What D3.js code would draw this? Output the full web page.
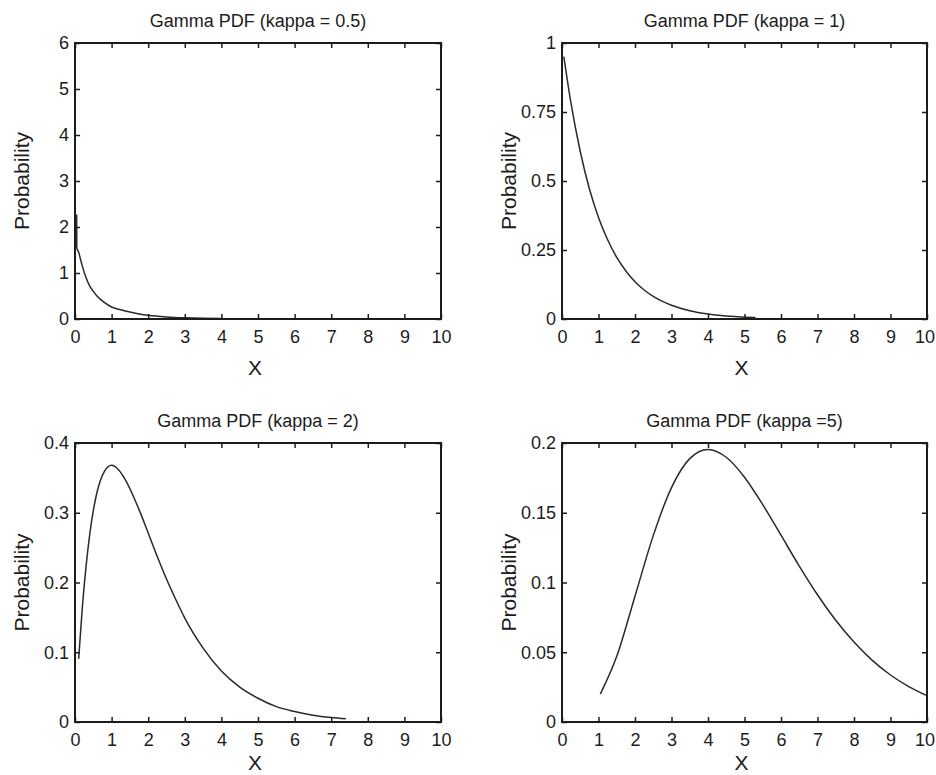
<!DOCTYPE html>
<html>
<head>
<meta charset="utf-8">
<script src="https://cdn.jsdelivr.net/npm/d3@7"></script>
<style>
  html, body { margin: 0; padding: 0; background: #fff; }
  svg { display: block; font-family: "Liberation Sans", Arial, sans-serif; }
</style>
</head>
<body>
<svg id="chart" width="936" height="775"></svg>
<script>
// ---------- data ----------
const titles = ["Gamma PDF (kappa = 0.5)", "Gamma PDF (kappa = 1)", "Gamma PDF (kappa = 2)", "Gamma PDF (kappa =5)"];
const xTicks = [0, 1, 2, 3, 4, 5, 6, 7, 8, 9, 10];

const yTicksA = [0, 1, 2, 3, 4, 5, 6];
const yTicksB = [0, 0.25, 0.5, 0.75, 1];
const yTicksC = [0, 0.1, 0.2, 0.3, 0.4];
const yTicksD = [0, 0.05, 0.1, 0.15, 0.2];
const yLabelsA = ["0", "1", "2", "3", "4", "5", "6"];
const yLabelsB = ["0", "0.25", "0.5", "0.75", "1"];
const yLabelsC = ["0", "0.1", "0.2", "0.3", "0.4"];
const yLabelsD = ["0", "0.05", "0.1", "0.15", "0.2"];

const xA = [0.045, 0.05, 0.1, 0.15, 0.2, 0.3, 0.4, 0.5, 0.6, 0.8, 1, 1.25, 1.5, 1.75, 2, 2.5, 3, 3.5, 4];
const yA = [2.27, 1.54, 1.45, 1.3, 1.15, 0.9, 0.72, 0.6, 0.5, 0.36, 0.26, 0.2, 0.15, 0.11, 0.08, 0.045, 0.026, 0.015, 0.01];

const xB = [0.05, 0.25, 0.5, 0.75, 1, 1.25, 1.5, 1.75, 2, 2.25, 2.5, 2.75, 3, 3.5, 4, 4.5, 5, 5.3];
const yB = [0.951, 0.779, 0.607, 0.472, 0.368, 0.287, 0.223, 0.174, 0.135, 0.105, 0.082, 0.064, 0.050, 0.030, 0.018, 0.011, 0.0067, 0.005];

const xC = [0.1, 0.2, 0.3, 0.4, 0.5, 0.6, 0.8, 1, 1.2, 1.4, 1.6, 1.8, 2, 2.25, 2.5, 2.75, 3, 3.5, 4, 4.5, 5, 5.5, 6, 6.5, 7, 7.4];
const yC = [0.0905, 0.164, 0.222, 0.268, 0.303, 0.329, 0.359, 0.368, 0.361, 0.345, 0.323, 0.298, 0.271, 0.237, 0.205, 0.176, 0.149, 0.106, 0.073, 0.050, 0.034, 0.022, 0.015, 0.0098, 0.0064, 0.0045];

const xD = [1.05, 1.5, 2, 2.5, 3, 3.5, 4, 4.5, 5, 5.5, 6, 6.5, 7, 7.5, 8, 8.5, 9, 9.5, 10];
const yD = [0.020, 0.0471, 0.0902, 0.1336, 0.168, 0.1888, 0.1954, 0.1898, 0.1755, 0.1558, 0.1339, 0.1118, 0.0912, 0.0729, 0.0573, 0.0442, 0.0337, 0.0254, 0.0189];

// ---------- layout ----------
const panels = [
  { box: [75, 43, 441, 319], ymax: 6, yt: yTicksA, yl: yLabelsA, xs: xA, ys: yA, title: titles[0], xlab: 56 },
  { box: [562, 43, 927, 319], ymax: 1, yt: yTicksB, yl: yLabelsB, xs: xB, ys: yB, title: titles[1], xlab: 56 },
  { box: [75, 443, 441, 722], ymax: 0.4, yt: yTicksC, yl: yLabelsC, xs: xC, ys: yC, title: titles[2], xlab: 48 },
  { box: [562, 443, 927, 722], ymax: 0.2, yt: yTicksD, yl: yLabelsD, xs: xD, ys: yD, title: titles[3], xlab: 48 }
];

const svg = d3.select("#chart");
const ink = "#1c1c1c";
const W = 936;

panels.forEach(p => {
  const [x0, y0, x1, y1] = p.box;
  const x = d3.scaleLinear().domain([0, 10]).range([x0, x1]);
  const y = d3.scaleLinear().domain([0, p.ymax]).range([y1, y0]);
  const g = svg.append("g");

  // curve
  const pts = p.xs.map((v, i) => [v, p.ys[i]]);
  g.append("path")
    .datum(pts)
    .attr("fill", "none")
    .attr("stroke", "#2a2a2a")
    .attr("stroke-width", 1.5)
    .attr("d", d3.line().x(d => x(d[0])).y(d => y(d[1])).curve(d3.curveMonotoneX));

  // axes (inward ticks on all sides)
  const bottom = g.append("g").attr("transform", `translate(0,${y1})`)
    .call(d3.axisBottom(x).tickValues(xTicks).tickSize(-5).tickPadding(11).tickFormat(d3.format("d")));
  const top = g.append("g").attr("transform", `translate(0,${y0})`)
    .call(d3.axisTop(x).tickValues(xTicks).tickSize(-5).tickFormat(""));
  const left = g.append("g").attr("transform", `translate(${x0},0)`)
    .call(d3.axisLeft(y).tickValues(p.yt).tickSize(-5).tickPadding(6).tickFormat((d, i) => p.yl[i]));
  const right = g.append("g").attr("transform", `translate(${x1},0)`)
    .call(d3.axisRight(y).tickValues(p.yt).tickSize(-5).tickFormat(""));

  [bottom, top, left, right].forEach(a => {
    a.select(".domain").remove();
    a.selectAll(".tick line").attr("stroke", ink).attr("stroke-width", 1.5);
    a.selectAll(".tick text").attr("fill", ink).style("font-size", "18px");
  });

  // keep the last x tick label inside the window
  bottom.selectAll(".tick text").each(function () {
    const bb = this.getBBox();
    const tx = +this.parentNode.getAttribute("transform").match(/translate\(([-\d.]+)/)[1];
    const over = tx + bb.x + bb.width - (W - 1);
    if (over > 0) d3.select(this).attr("x", -over);
  });

  // box
  g.append("rect")
    .attr("x", x0).attr("y", y0)
    .attr("width", x1 - x0).attr("height", y1 - y0)
    .attr("fill", "none").attr("stroke", ink).attr("stroke-width", 2);

  // title
  g.append("text")
    .attr("x", (x0 + x1) / 2).attr("y", y0 - 16)
    .attr("text-anchor", "middle").attr("fill", ink)
    .style("font-size", "18px")
    .text(p.title);

  // x label
  g.append("text")
    .attr("x", (x0 + x1) / 2 - 3).attr("y", y1 + p.xlab)
    .attr("text-anchor", "middle").attr("fill", ink)
    .style("font-size", "21px")
    .text("X");

  // y label
  g.append("text")
    .attr("transform", `translate(${x0 - 46},${(y0 + y1) / 2}) rotate(-90)`)
    .attr("text-anchor", "middle").attr("fill", ink)
    .style("font-size", "21px")
    .text("Probability");
});
</script>
</body>
</html>
